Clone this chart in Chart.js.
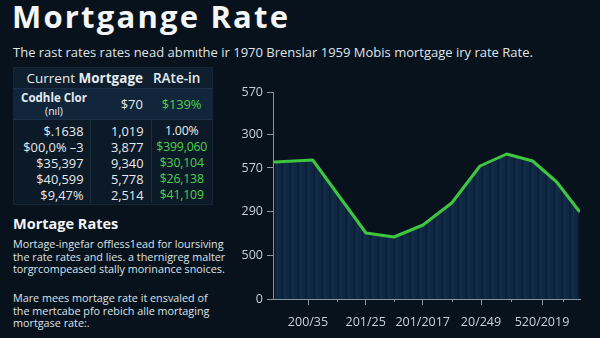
<!DOCTYPE html>
<html>
<head>
<meta charset="utf-8">
<script src="https://cdn.jsdelivr.net/npm/chart.js@4.4.1/dist/chart.umd.min.js"></script>
<style>
  html, body { margin: 0; padding: 0; }
  body {
    width: 600px; height: 338px; overflow: hidden; position: relative;
    background: #08121d; color: #e6ebf0;
    font-family: "Open Sans", "Noto Sans", sans-serif;
  }
  h1 {
    position: absolute; left: 12px; top: -5px; margin: 0;
    font-size: 31px; font-weight: 700; color: #f4f6f8; letter-spacing: 2.2px;
  }
  .sub {
    position: absolute; left: 13px; top: 43px; font-size: 13px; color: #dfe4e9;
    white-space: nowrap;
  }
  .panel {
    position: absolute; left: 13px; top: 67px; width: 200px; height: 138px;
    background: #0c1927; border: 1px solid #142536; box-sizing: border-box;
    overflow: hidden;
  }
  .panel table { border-collapse: collapse; table-layout: fixed; width: 198px; font-size: 12.8px; }
  .panel td { padding: 0; white-space: nowrap; overflow: visible; }
  .hdr td { height: 20px; background: #0e1e2e; color: #e7ecf0; vertical-align: middle; font-size: 13.5px; }
  .r1 td { height: 30px; background: #11263a; border-top: 1px solid #1a3047; border-bottom: 1px solid #1a3047; }
  .body td { height: 16px; line-height: 16px; }
  .c1 { text-align: right; padding-right: 6px !important; border-right: 1px solid #1a2c3e; }
  .c2 { text-align: right; padding-right: 7px !important; border-right: 1px solid #1a2c3e; }
  .c3 { text-align: center; font-size: 12.3px; letter-spacing: -0.2px; }
  .g { color: #49d14a; }
  .w { color: #e8edf1; }
  h2 {
    position: absolute; left: 13px; top: 214px; margin: 0;
    font-size: 14.5px; font-weight: 700; color: #f1f4f7;
  }
  .para {
    position: absolute; left: 13px; width: 215px; font-size: 10.8px; line-height: 12.5px;
    color: #dce2e8;
  }
</style>
</head>
<body>
<h1>Mortgange Rate</h1>
<div class="sub">The rast rates rates nead abmıthe ir 1970 Brenslar 1959 Mobis mortgage iry rate Rate.</div>

<div class="panel">
  <table>
    <colgroup><col style="width:76px"><col style="width:61px"><col style="width:61px"></colgroup>
    <tr class="hdr">
      <td colspan="2" style="text-align:right;padding-right:8px;">Current <b>Mortgage</b></td>
      <td style="text-align:left;padding-left:2px;font-weight:600;">RAte-in</td>
    </tr>
    <tr class="r1">
      <td style="text-align:center;font-weight:700;font-size:11.5px;line-height:13px;padding-left:4px;">Codhle Clor<br><span style="font-weight:400;font-size:10.5px;">(nıl)</span></td>
      <td style="text-align:right;padding-right:8px;font-size:13px;">$70</td>
      <td class="c3 g" style="font-size:13px;">$139%</td>
    </tr>
    <tr class="body"><td class="c1" style="padding-top:3px !important;">$.1638</td><td class="c2" style="padding-top:3px !important;">1,019</td><td class="c3 w" style="padding-top:3px !important;">1.00%</td></tr>
    <tr class="body"><td class="c1">$00,0% –3</td><td class="c2">3,877</td><td class="c3 g">$399,060</td></tr>
    <tr class="body"><td class="c1">$35,397</td><td class="c2">9,340</td><td class="c3 g">$30,104</td></tr>
    <tr class="body"><td class="c1">$40,599</td><td class="c2">5,778</td><td class="c3 g">$26,138</td></tr>
    <tr class="body"><td class="c1">$9,47%</td><td class="c2">2,514</td><td class="c3 g">$41,109</td></tr>
  </table>
</div>

<h2>Mortage Rates</h2>
<div class="para" style="top:238px;">Mortage-ingefar offless1ead for loursiving the rate rates and lies. a thernigreg malter torgrcompeased stally morinance snoices.</div>
<div class="para" style="top:292px;width:205px;">Mare mees mortage rate it ensvaled of the mertcabe pfo rebich alle mortaging mortgase rate:.</div>

<div style="position:absolute;left:225px;top:78px;width:375px;height:260px;">
  <canvas id="c" width="375" height="260"></canvas>
</div>

<script>
// Period positions along the time axis and the rate for each period
const periods = [2, 39.7, 93, 121, 150, 178.7, 207, 233.7, 259.7, 283.7, 306];
const rates   = [137, 139, 66, 62, 74, 96, 133, 145, 138, 117, 88];

// Axis tick values and their printed labels
const xTickValues = [35, 92.7, 149.7, 208, 269];
const xTickLabels = ['200/35', '201/25', '201/2017', '20/249', '520/2019'];
const xMinorTicks = [64, 121, 179, 238, 290];
const yTickValues = [0, 44, 88, 131, 165, 207];
const yTickLabels = ['0', '500', '290', '570', '300', '570'];

const ctx = document.getElementById('c').getContext('2d');

// Vertically striped fill under the line
function stripePattern() {
  const p = document.createElement('canvas');
  p.width = 8; p.height = 4;
  const g = p.getContext('2d');
  g.fillStyle = '#0f2944';
  g.fillRect(0, 0, 8, 4);
  g.fillStyle = '#0b2036';
  g.fillRect(0, 0, 2, 4);
  g.fillStyle = '#12304d';
  g.fillRect(4, 0, 1, 4);
  return ctx.createPattern(p, 'repeat');
}

const axisColor = '#8796a4';
const labelColor = '#c9d1d9';

// Short unlabeled ticks between the labelled ones
const minorTicks = {
  id: 'minorTicks',
  afterDraw(chart) {
    const xs = chart.scales.x;
    const c = chart.ctx;
    c.save();
    c.strokeStyle = axisColor;
    c.lineWidth = 1;
    xMinorTicks.forEach(v => {
      const px = Math.round(xs.getPixelForValue(v)) + 0.5;
      c.beginPath();
      c.moveTo(px, xs.top);
      c.lineTo(px, xs.top + 3);
      c.stroke();
    });
    c.restore();
  }
};

new Chart(ctx, {
  type: 'line',
  data: {
    datasets: [{
      data: periods.map((p, i) => ({ x: p, y: rates[i] })),
      borderColor: '#3fc63f',
      borderWidth: 3,
      backgroundColor: stripePattern(),
      fill: 'origin',
      tension: 0,
      pointRadius: 0,
      borderJoinStyle: 'round',
      borderCapStyle: 'round'
    }]
  },
  options: {
    responsive: false,
    animation: false,
    layout: { padding: { top: 14, right: 20, left: 0, bottom: 0 } },
    plugins: { legend: { display: false }, tooltip: { enabled: false } },
    scales: {
      x: {
        type: 'linear', min: 0, max: 307,
        afterBuildTicks(scale) { scale.ticks = xTickValues.map(v => ({ value: v })); },
        afterFit(scale) { scale.height = 39; },
        ticks: {
          autoSkip: false, maxRotation: 0, padding: 10,
          color: labelColor, font: { family: 'Open Sans', size: 12.5 },
          callback: (v, i) => xTickLabels[i]
        },
        grid: { drawOnChartArea: false, drawTicks: true, tickLength: 6, color: axisColor },
        border: { display: true, color: axisColor, width: 1 }
      },
      y: {
        type: 'linear', min: 0, max: 207,
        afterBuildTicks(scale) { scale.ticks = yTickValues.map(v => ({ value: v })); },
        afterFit(scale) { scale.width = 48; },
        ticks: {
          autoSkip: false, padding: 4,
          color: labelColor, font: { family: 'Open Sans', size: 12.5 },
          callback: (v, i) => yTickLabels[i]
        },
        grid: { drawOnChartArea: false, drawTicks: true, tickLength: 6, color: axisColor },
        border: { display: true, color: axisColor, width: 1 }
      }
    }
  },
  plugins: [minorTicks]
});
</script>
</body>
</html>
